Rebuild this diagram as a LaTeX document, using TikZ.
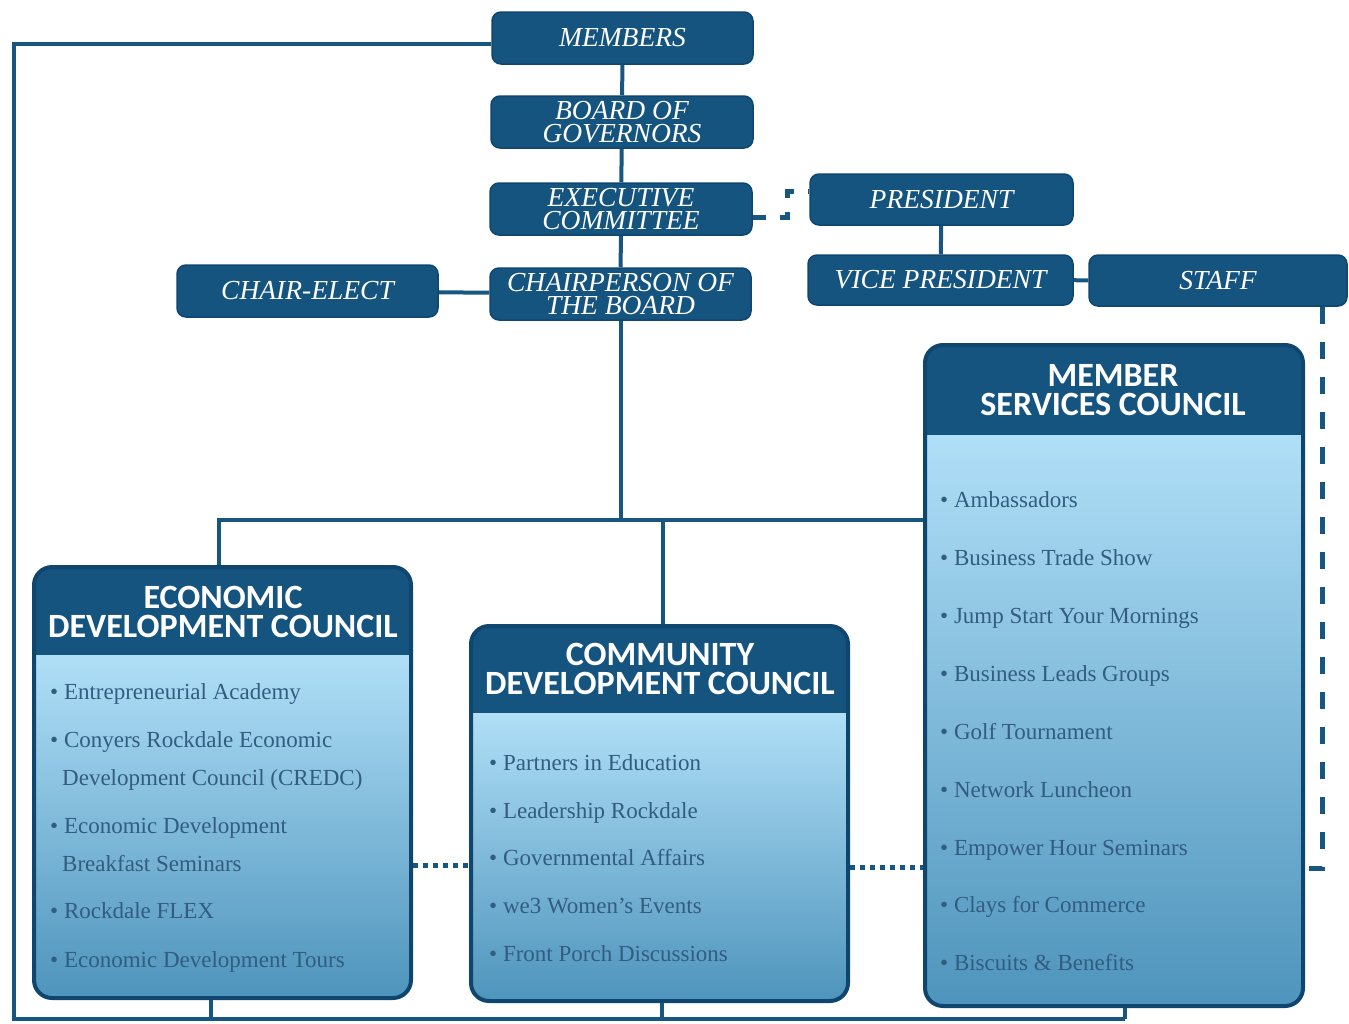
\documentclass[tikz,border=0pt]{standalone}
\usepackage{fontspec}
\setmainfont{Liberation Serif}
\newfontfamily\hdrfont{Carlito}
\definecolor{boxblue}{RGB}{22,84,128}
\definecolor{boxedge}{RGB}{14,70,112}
\definecolor{linec}{RGB}{24,86,130}
\definecolor{bodytop}{RGB}{176,223,247}
\definecolor{bodymid}{RGB}{128,192,230}
\definecolor{bodybot}{RGB}{78,148,188}
\definecolor{itemc}{RGB}{50,92,128}
\begin{document}
\begin{tikzpicture}[x=1pt,y=-1pt,
  topbox/.style={fill=boxblue, draw=boxedge, line width=1.5pt, rounded corners=9pt, text=white,
    font=\fontsize{27.5}{23}\selectfont\itshape, align=center, inner sep=0pt},
  councilframe/.style={draw=boxedge, line width=4pt, rounded corners=18pt, inner sep=0pt},
  hdr/.style={text=white, font=\hdrfont\bfseries\fontsize{34}{29}\selectfont, align=center, inner sep=0pt},
  item/.style={anchor=base west, inner sep=0pt, text=itemc, font=\fontsize{23}{26}\selectfont},
  conn/.style={draw=linec, line width=4pt},
  dashconn/.style={draw=linec, line width=5pt, dash pattern=on 17pt off 18pt},
  dotconn/.style={draw=linec, line width=5pt, dash pattern=on 5pt off 5pt}
]
\useasboundingbox (0,0) rectangle (1349,1023);

% ---------- council bodies ----------
\begin{scope}
  \clip[rounded corners=18pt] (34,567) rectangle (411,998);
  \shade[top color=bodytop, middle color=bodymid, bottom color=bodybot] (34,655) rectangle (411,998);
  \fill[boxblue] (34,567) rectangle (411,655);
\end{scope}
\begin{scope}
  \clip[rounded corners=18pt] (471,626) rectangle (848,1001);
  \shade[top color=bodytop, middle color=bodymid, bottom color=bodybot] (471,713) rectangle (848,1001);
  \fill[boxblue] (471,626) rectangle (848,713);
\end{scope}
\begin{scope}
  \clip[rounded corners=18pt] (925,345) rectangle (1303,1006);
  \shade[top color=bodytop, middle color=bodymid, bottom color=bodybot] (925,435) rectangle (1303,1006);
  \fill[boxblue] (925,345) rectangle (1303,435);
\end{scope}

\node[councilframe, minimum width=377, minimum height=431] (edc) at (222.5,782.5) {};
\node[councilframe, minimum width=377, minimum height=375] (cdc) at (659.5,813.5) {};
\node[councilframe, minimum width=378, minimum height=661] (msc) at (1114,675.5) {};

\node[hdr] (edch) at (223,612) {ECONOMIC\\DEVELOPMENT COUNCIL};
\node[hdr] (cdch) at (660,669) {COMMUNITY\\DEVELOPMENT COUNCIL};
\node[hdr] (msch) at (1113,390) {MEMBER\\SERVICES COUNCIL};

% ---------- items ----------
\foreach \x/\y/\t [count=\i] in {50/699/\textbullet\ Entrepreneurial Academy,
  50/747/\textbullet\ Conyers Rockdale Economic,
  62/785/Development Council (CREDC),
  50/833/\textbullet\ Economic Development,
  62/871/Breakfast Seminars,
  50/918/\textbullet\ Rockdale FLEX,
  50/967/\textbullet\ Economic Development Tours}
  \node[item] (edci\i) at (\x,\y) {\t};
\foreach \y/\t [count=\i] in {770/Partners in Education,
  818/Leadership Rockdale,
  865/Governmental Affairs,
  913/we3 Women's Events,
  961/Front Porch Discussions}
  \node[item] (cdci\i) at (489,\y) {\textbullet\ \t};
\foreach \y/\t [count=\i] in {507/Ambassadors,
  565/Business Trade Show,
  623/Jump Start Your Mornings,
  681/Business Leads Groups,
  739/Golf Tournament,
  797/Network Luncheon,
  855/Empower Hour Seminars,
  912/Clays for Commerce,
  970/Biscuits \& Benefits}
  \node[item] (msci\i) at (940,\y) {\textbullet\ \t};

% ---------- top boxes ----------
\node[topbox, minimum width=261, minimum height=52] (members) at (622.5,38) {MEMBERS};
\node[topbox, minimum width=262, minimum height=52] (bog) at (622,122) {BOARD OF\\GOVERNORS};
\node[topbox, minimum width=262, minimum height=52] (exec) at (621,209) {EXECUTIVE\\COMMITTEE};
\node[topbox, minimum width=261, minimum height=52] (chair) at (620.5,294) {CHAIRPERSON OF\\THE BOARD};
\node[topbox, minimum width=261, minimum height=52] (chairelect) at (307.5,291) {CHAIR-ELECT};
\node[topbox, minimum width=263, minimum height=51] (pres) at (941.5,199.5) {PRESIDENT};
\node[topbox, minimum width=265, minimum height=50] (vp) at (940.5,280) {VICE PRESIDENT};
\node[topbox, minimum width=258, minimum height=51] (staff) at (1218,280.5) {STAFF};

% ---------- connectors ----------
\coordinate (hbar) at (0,520);
\coordinate (botL) at (14,1019);
\coordinate (staffEnd) at (1309,868);
\coordinate (edcB) at ([xshift=-12pt]edc.south);
\coordinate (cdcB) at ([xshift=2pt]cdc.south);
\coordinate (mscB) at ([xshift=11pt]msc.south);
\coordinate (edcT) at ([xshift=-4pt]edc.north);
\coordinate (cdcT) at ([xshift=3pt]cdc.north);

\draw[conn] (members) -- (bog);
\draw[conn] (bog) -- (exec);
\draw[conn] (exec) -- (chair);
\draw[conn] (chairelect) -- (chair);
\draw[conn] (pres) -- (vp);
\draw[conn] (vp) -- (staff);
\draw[conn] (chair.south) -- (chair.south |- hbar);
\draw[conn] (edcT) |- (hbar -| msc.west);
\draw[conn] (cdcT) -- (cdcT |- hbar);
\draw[conn] ([yshift=-6pt]members.west) -| (botL) -- (botL -| mscB);
\draw[conn] (edcB) -- (edcB |- botL);
\draw[conn] (cdcB) -- (cdcB |- botL);
\draw[conn] (mscB) -- (mscB |- botL);

\draw[dashconn, dash pattern=on 13pt off 14pt] ([yshift=-8pt]exec.east) -| ([xshift=-22pt,yshift=8pt]pres.west) -- ([yshift=8pt]pres.west);
\draw[dashconn] ([xshift=-25pt]staff.south east) |- (staffEnd);
\draw[dotconn] (edc.east |- 0,865) -- (cdc.west |- 0,865);
\draw[dotconn] (cdc.east |- 0,867) -- (msc.west |- 0,867);
\end{tikzpicture}
\end{document}
